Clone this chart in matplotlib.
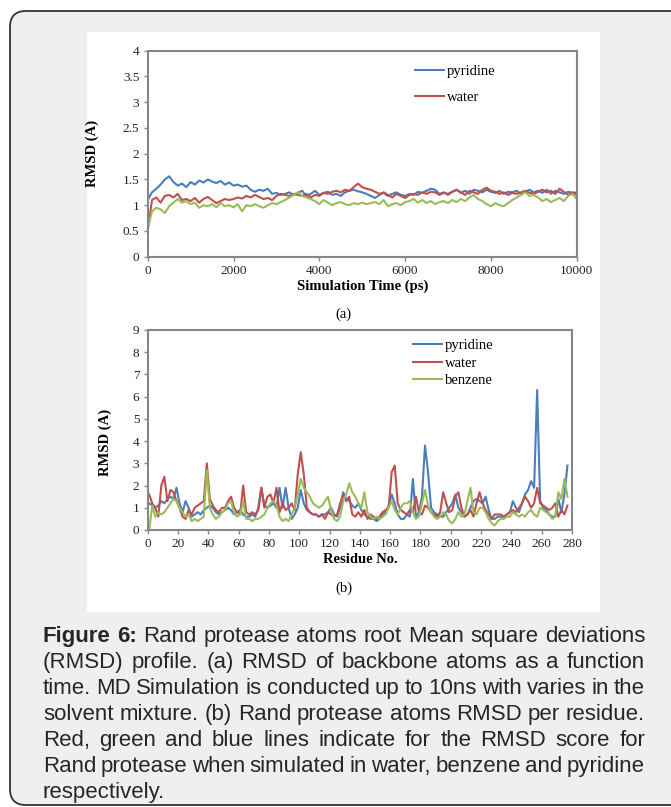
import numpy as np
import matplotlib
matplotlib.use('Agg')
import matplotlib.pyplot as plt
from matplotlib.patches import FancyBboxPatch, Rectangle
from matplotlib.transforms import IdentityTransform

# (a) backbone RMSD vs simulation time, read every 100 ps
time_ps = np.arange(0, 10001, 100)
rmsd_pyridine_t = [
    1.10, 1.25, 1.32, 1.40, 1.50, 1.56, 1.45, 1.38, 1.42, 1.35,
    1.45, 1.40, 1.48, 1.44, 1.50, 1.46, 1.43, 1.47, 1.40, 1.44,
    1.38, 1.40, 1.36, 1.38, 1.30, 1.26, 1.30, 1.28, 1.32, 1.22,
    1.24, 1.20, 1.22, 1.25, 1.20, 1.24, 1.28, 1.18, 1.22, 1.28,
    1.20, 1.24, 1.26, 1.20, 1.22, 1.18, 1.25, 1.28, 1.30, 1.27,
    1.25, 1.22, 1.18, 1.14, 1.20, 1.24, 1.18, 1.22, 1.25, 1.20,
    1.18, 1.22, 1.20, 1.26, 1.24, 1.28, 1.32, 1.30, 1.22, 1.25,
    1.20, 1.26, 1.30, 1.24, 1.28, 1.22, 1.30, 1.28, 1.25, 1.30,
    1.26, 1.24, 1.28, 1.22, 1.26, 1.25, 1.28, 1.22, 1.26, 1.30,
    1.25, 1.28, 1.24, 1.30, 1.22, 1.28, 1.25, 1.22, 1.26, 1.24, 1.20]
rmsd_water_t = [
    0.50, 1.10, 1.15, 1.05, 1.18, 1.20, 1.15, 1.22, 1.10, 1.12,
    1.08, 1.14, 1.05, 1.12, 1.16, 1.10, 1.04, 1.08, 1.12, 1.10,
    1.12, 1.15, 1.13, 1.18, 1.15, 1.20, 1.16, 1.12, 1.14, 1.10,
    1.18, 1.22, 1.20, 1.18, 1.22, 1.20, 1.18, 1.22, 1.15, 1.20,
    1.18, 1.24, 1.22, 1.26, 1.28, 1.25, 1.30, 1.28, 1.35, 1.42,
    1.35, 1.32, 1.30, 1.26, 1.22, 1.25, 1.20, 1.15, 1.22, 1.18,
    1.14, 1.20, 1.22, 1.20, 1.25, 1.22, 1.26, 1.25, 1.20, 1.24,
    1.22, 1.26, 1.30, 1.25, 1.20, 1.28, 1.25, 1.22, 1.30, 1.34,
    1.28, 1.26, 1.22, 1.25, 1.20, 1.24, 1.22, 1.25, 1.28, 1.24,
    1.22, 1.26, 1.30, 1.25, 1.28, 1.22, 1.32, 1.26, 1.20, 1.25, 1.24]
rmsd_benzene_t = [
    0.55, 0.88, 0.95, 0.92, 0.85, 0.98, 1.05, 1.12, 1.05, 1.08,
    1.02, 1.05, 0.95, 1.00, 0.98, 1.02, 0.96, 1.04, 0.98, 1.00,
    0.96, 1.02, 0.88, 1.00, 0.98, 1.02, 0.98, 0.95, 1.00, 1.04,
    1.02, 1.06, 1.10, 1.15, 1.20, 1.25, 1.18, 1.15, 1.12, 1.08,
    1.02, 1.10, 1.05, 1.00, 1.04, 1.06, 1.02, 1.00, 1.04, 1.02,
    1.05, 1.02, 1.04, 1.06, 1.02, 1.10, 0.98, 1.02, 1.04, 1.00,
    1.06, 1.08, 1.12, 1.05, 1.10, 1.04, 1.08, 1.02, 1.06, 1.08,
    1.04, 1.10, 1.06, 1.12, 1.08, 1.15, 1.20, 1.12, 1.08, 1.02,
    0.98, 1.04, 1.00, 0.98, 1.04, 1.10, 1.15, 1.20, 1.25, 1.18,
    1.20, 1.15, 1.08, 1.12, 1.06, 1.10, 1.14, 1.08, 1.18, 1.22, 1.12]

# (b) RMSD per residue, read every second residue
residues = np.arange(1, 278, 2)
rmsd_pyridine_r = [
    1.2, 1.1, 1.0, 1.1, 1.3, 1.2, 1.4, 1.5, 1.4, 1.9,
    1.2, 0.8, 1.3, 1.0, 0.6, 0.7, 0.8, 0.7, 0.9, 1.0,
    1.1, 1.0, 0.8, 0.7, 0.8, 0.9, 1.0, 0.9, 0.7, 0.8,
    0.9, 0.7, 0.6, 0.6, 0.7, 0.6, 1.0, 1.9, 1.1, 1.0,
    1.1, 1.2, 1.0, 1.9, 1.0, 1.9, 1.0, 0.5, 0.7, 1.0,
    1.8, 1.2, 0.9, 0.8, 0.7, 0.7, 0.6, 0.7, 0.7, 0.8,
    1.0, 0.7, 0.6, 1.0, 1.7, 1.4, 1.3, 1.1, 1.0, 1.2,
    0.9, 0.7, 0.6, 0.5, 0.5, 0.4, 0.5, 0.7, 0.8, 1.1,
    1.6, 1.2, 0.7, 0.5, 0.5, 0.7, 0.6, 2.3, 0.6, 0.8,
    1.5, 3.8, 2.6, 1.0, 0.8, 0.7, 0.6, 0.6, 0.8, 1.0,
    1.2, 1.6, 1.0, 0.8, 0.6, 0.7, 1.0, 1.3, 1.4, 1.3,
    1.2, 1.5, 0.9, 0.5, 0.5, 0.6, 0.6, 0.6, 0.7, 0.8,
    1.3, 1.0, 0.8, 1.2, 1.6, 1.8, 2.2, 1.9, 6.3, 1.3,
    1.0, 0.9, 0.7, 0.6, 0.6, 1.4, 0.8, 1.6, 2.9]
rmsd_water_r = [
    1.6, 1.2, 1.0, 0.6, 2.0, 2.4, 1.3, 1.8, 1.7, 1.3,
    1.0, 0.6, 0.5, 0.9, 0.7, 1.0, 1.1, 1.2, 1.3, 3.0,
    1.4, 1.1, 0.9, 0.8, 1.0, 1.0, 1.3, 1.5, 1.0, 0.8,
    0.7, 2.0, 0.8, 0.7, 0.8, 0.7, 0.9, 1.9, 1.0, 1.5,
    1.6, 1.2, 1.9, 0.8, 1.2, 0.9, 1.0, 1.2, 0.9, 2.5,
    3.5, 2.5, 1.0, 0.8, 0.7, 0.7, 0.6, 0.7, 0.5, 0.8,
    0.7, 0.6, 0.7, 1.2, 1.6, 1.3, 1.5, 0.7, 0.6, 0.8,
    0.6, 0.9, 0.5, 0.7, 0.6, 0.5, 0.6, 0.8, 0.9, 1.0,
    2.6, 2.9, 1.2, 0.9, 0.8, 0.7, 0.9, 0.8, 1.5, 0.8,
    0.7, 1.1, 1.0, 0.8, 0.7, 0.6, 0.8, 1.7, 1.2, 0.8,
    0.9, 1.5, 1.7, 1.0, 0.6, 0.7, 0.9, 0.6, 1.2, 1.7,
    1.2, 0.9, 0.7, 0.5, 0.7, 0.7, 0.7, 0.6, 0.7, 0.8,
    0.9, 0.8, 1.0, 1.2, 1.5, 1.3, 1.0, 1.2, 1.9, 1.2,
    1.1, 1.0, 0.9, 1.0, 1.2, 0.6, 0.9, 0.7, 1.1]
rmsd_benzene_r = [
    0.0, 1.1, 0.6, 0.8, 0.7, 0.8, 1.0, 1.2, 1.4, 1.3,
    1.0, 0.8, 0.6, 0.7, 0.4, 0.5, 0.4, 0.5, 0.6, 2.7,
    1.0, 0.7, 0.5, 0.6, 0.8, 0.9, 1.2, 1.3, 0.8, 0.6,
    0.7, 1.3, 0.5, 0.5, 0.4, 0.5, 0.5, 0.6, 0.7, 1.0,
    1.2, 1.3, 1.1, 0.6, 0.4, 0.5, 0.4, 0.7, 1.0, 1.6,
    2.3, 1.9, 1.7, 1.5, 1.2, 1.1, 1.0, 1.1, 1.3, 1.5,
    0.9, 0.5, 0.4, 0.6, 1.3, 1.6, 2.1, 1.7, 1.5, 1.2,
    1.0, 1.7, 0.8, 0.6, 0.5, 0.6, 0.5, 0.6, 0.7, 1.0,
    1.3, 0.9, 0.7, 1.0, 1.2, 1.2, 1.3, 0.8, 0.5, 0.6,
    1.2, 1.8, 1.1, 0.8, 0.6, 0.5, 0.6, 0.8, 0.7, 0.4,
    0.3, 0.5, 0.8, 0.6, 0.7, 1.3, 1.9, 0.8, 0.7, 1.0,
    1.0, 0.8, 0.5, 0.3, 0.2, 0.4, 0.5, 0.5, 0.6, 0.6,
    0.8, 0.7, 0.6, 0.7, 0.6, 0.8, 0.9, 0.7, 0.6, 1.0,
    0.9, 0.8, 0.7, 0.5, 0.6, 1.7, 1.4, 2.3, 1.5]

ticks_a_y = [0, 0.5, 1, 1.5, 2, 2.5, 3, 3.5, 4]
ticks_a_y_labels = ['0', '0.5', '1', '1.5', '2', '2.5', '3', '3.5', '4']
ticks_a_x = [0, 2000, 4000, 6000, 8000, 10000]
ticks_b_y = list(range(0, 10))
ticks_b_x = list(range(0, 281, 20))

caption_lines = [
    "Figure 6: Rand protease atoms root Mean square deviations",
    "(RMSD) profile. (a) RMSD of backbone atoms as a function",
    "time. MD Simulation is conducted up to 10ns with varies in the",
    "solvent mixture. (b) Rand protease atoms RMSD per residue.",
    "Red, green and blue lines indicate for the RMSD score for",
    "Rand protease when simulated in water, benzene and pyridine",
    "respectively.",
]

BLUE = '#4a7ebb'
RED = '#c0504d'
GREEN = '#9bbb59'
AXC = '#868686'
SERIF = 'Liberation Serif'
CAP_FONT = ['Liberation Sans Narrow', 'Liberation Sans']

W, H = 671, 807
fig = plt.figure(figsize=(W / 100, H / 100), dpi=100)
fig.patch.set_facecolor('white')


def rect(x0, y0, x1, y1):
    # pixel box (top-left origin) -> figure fraction [l, b, w, h]
    return [x0 / W, 1 - y1 / H, (x1 - x0) / W, (y1 - y0) / H]


# grey rounded box and white panel, kept behind the axes
box = FancyBboxPatch((10, 2), 700, 794, boxstyle='round,pad=0,rounding_size=16',
                     transform=IdentityTransform(), facecolor='#eeeff1',
                     edgecolor='#333333', linewidth=1.3, zorder=-2)
fig.patches.append(box)
fig.patches.append(Rectangle((87, H - 612), 513, 580, transform=IdentityTransform(),
                             facecolor='white', edgecolor='none', zorder=-1))


def style_axes(ax):
    ax.set_zorder(2)
    for s in ax.spines.values():
        s.set_color(AXC)
        s.set_linewidth(1.5)
    ax.tick_params(direction='out', length=3, width=1, color=AXC,
                   labelsize=9.5, labelcolor='#222222', pad=3)
    for lab in ax.get_xticklabels() + ax.get_yticklabels():
        lab.set_family(SERIF)


# ---- (a)
ax1 = fig.add_axes(rect(147.7, 50.7, 576.7, 256.7))
ax1.plot(time_ps, rmsd_pyridine_t, color=BLUE, lw=1.5, label='pyridine')
ax1.plot(time_ps, rmsd_water_t, color=RED, lw=1.5, label='water')
ax1.plot(time_ps, rmsd_benzene_t, color=GREEN, lw=1.5, label='_nolegend_')
ax1.set_xlim(0, 10000)
ax1.set_ylim(0, 4)
ax1.set_yticks(ticks_a_y)
ax1.set_yticklabels(ticks_a_y_labels)
ax1.set_xticks(ticks_a_x)
style_axes(ax1)
ax1.set_xlabel('Simulation Time (ps)', family=SERIF, weight='bold', fontsize=10.5, labelpad=2)
ax1.set_ylabel('RMSD (A)', family=SERIF, weight='bold', fontsize=10.5)
ax1.yaxis.set_label_coords(-0.113, 0.5)
ax1.legend(loc='upper left', bbox_to_anchor=(0.623, 0.93), frameon=False,
           prop={'family': SERIF, 'size': 10.5}, handlelength=2.0,
           handletextpad=0.2, labelspacing=0.85, borderpad=0, borderaxespad=0)

# ---- (b)
ax2 = fig.add_axes(rect(147.7, 330, 572, 530))
ax2.plot(residues, rmsd_pyridine_r, color=BLUE, lw=1.5, label='pyridine')
ax2.plot(residues, rmsd_water_r, color=RED, lw=1.5, label='water')
ax2.plot(residues, rmsd_benzene_r, color=GREEN, lw=1.5, label='benzene')
ax2.set_xlim(0, 280)
ax2.set_ylim(0, 9)
ax2.set_yticks(ticks_b_y)
ax2.set_xticks(ticks_b_x)
style_axes(ax2)
ax2.set_xlabel('Residue No.', family=SERIF, weight='bold', fontsize=10.5, labelpad=2)
ax2.set_ylabel('RMSD (A)', family=SERIF, weight='bold', fontsize=10.5)
ax2.yaxis.set_label_coords(-0.084, 0.44)
ax2.legend(loc='upper left', bbox_to_anchor=(0.625, 0.955), frameon=False,
           prop={'family': SERIF, 'size': 10.5}, handlelength=2.0,
           handletextpad=0.2, labelspacing=0.3, borderpad=0, borderaxespad=0)

fig.text(343.5 / W, 1 - 314 / H, '(a)', family=SERIF, fontsize=10.5, ha='center', va='center')
fig.text(343.5 / W, 1 - 588 / H, '(b)', family=SERIF, fontsize=10.5, ha='center', va='center')

# ---- justified caption
renderer = fig.canvas.get_renderer()
left, right = 43, 645
y0, dy = 642, 26     # baseline of first line, line step (pixels from top)
cap_size = 16
probe2 = fig.text(0, 0, 'a a', family=CAP_FONT, fontsize=cap_size)
probe1 = fig.text(0, 0, 'aa', family=CAP_FONT, fontsize=cap_size)
space_w = probe2.get_window_extent(renderer).width - probe1.get_window_extent(renderer).width
probe1.remove()
probe2.remove()
for i, line in enumerate(caption_lines):
    words = line.split(' ')
    arts = []
    for j, w in enumerate(words):
        bold = (i == 0 and j < 2)
        t = fig.text(0, 0, w, family=CAP_FONT, fontsize=cap_size,
                     weight='bold' if bold else 'normal', color='#262626',
                     va='baseline', ha='left', transform=IdentityTransform())
        arts.append(t)
    widths = [a.get_window_extent(renderer).width for a in arts]
    if i < len(caption_lines) - 1 and len(words) > 1:
        gap = (right - left - sum(widths)) / (len(words) - 1)
    else:
        gap = space_w
    x = left
    for a, wd in zip(arts, widths):
        a.set_position((x, H - (y0 + i * dy)))
        x += wd + gap

fig.savefig('out.png', dpi=100)
